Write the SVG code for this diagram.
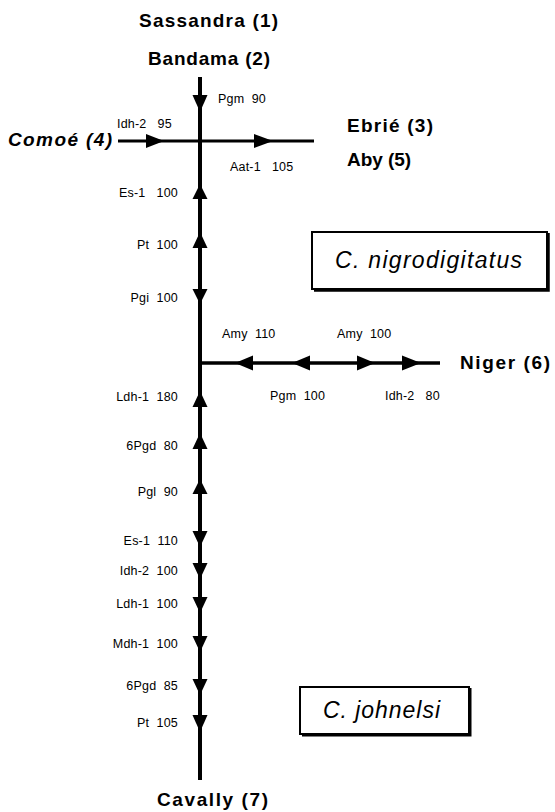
<svg xmlns="http://www.w3.org/2000/svg" width="555" height="812" viewBox="0 0 555 812">
<style>
.big{font-family:"Liberation Sans",Arial,sans-serif;font-weight:bold;font-size:19px;fill:#000}
.lab{font-family:"Liberation Sans",Arial,sans-serif;font-size:12.5px;letter-spacing:0.2px;fill:#000;white-space:pre}
.sp{font-family:"Liberation Sans",Arial,sans-serif;font-style:italic;font-size:23px;fill:#000}
.ln{stroke:#000;fill:none}
.ah{fill:#000}
</style>
<rect width="555" height="812" fill="#fff"/>
<g id="connectors">
<line class="ln" x1="200" y1="77" x2="200" y2="780" stroke-width="4"/>
<line class="ln" x1="118" y1="141" x2="314" y2="141" stroke-width="3"/>
<line class="ln" x1="200" y1="363" x2="440" y2="363" stroke-width="3.5"/>
<polygon class="ah" points="192.5,95 207.5,95 200,112"/>
<polygon class="ah" points="200,184 207.5,199 192.5,199"/>
<polygon class="ah" points="200,232 207.5,248 192.5,248"/>
<polygon class="ah" points="192.5,289 207.5,289 200,304"/>
<polygon class="ah" points="200,391 207.5,407 192.5,407"/>
<polygon class="ah" points="200,433 207.5,449 192.5,449"/>
<polygon class="ah" points="200,479 207.5,494 192.5,494"/>
<polygon class="ah" points="192.5,531 207.5,531 200,547"/>
<polygon class="ah" points="192.5,563 207.5,563 200,579"/>
<polygon class="ah" points="192.5,597 207.5,597 200,613"/>
<polygon class="ah" points="192.5,636 207.5,636 200,652"/>
<polygon class="ah" points="192.5,679 207.5,679 200,695"/>
<polygon class="ah" points="192.5,715 207.5,715 200,732"/>
<polygon class="ah" points="146,134 146,148 164,141"/>
<polygon class="ah" points="254,134 254,148 273,141"/>
<polygon class="ah" points="235,363 253,355.5 253,370.5"/>
<polygon class="ah" points="292,363 310,355.5 310,370.5"/>
<polygon class="ah" points="357,355.5 357,370.5 375,363"/>
<polygon class="ah" points="402,355.5 402,370.5 421,363"/>
</g>
<g id="sassandra"><text class="big" x="139" y="27" textLength="139" lengthAdjust="spacing">Sassandra (1)</text></g>
<g id="bandama"><text class="big" x="148" y="65" textLength="122" lengthAdjust="spacing">Bandama (2)</text></g>
<g id="ebrie"><text class="big" x="347" y="132" textLength="86" lengthAdjust="spacing">Ebrié (3)</text></g>
<g id="aby"><text class="big" x="347" y="166" textLength="64" lengthAdjust="spacing">Aby (5)</text></g>
<g id="comoe"><text class="big" x="8" y="146" textLength="104" lengthAdjust="spacing" font-style="italic">Comoé (4)</text></g>
<g id="niger"><text class="big" x="460" y="369" textLength="90" lengthAdjust="spacing">Niger (6)</text></g>
<g id="cavally"><text class="big" x="157" y="806" textLength="111" lengthAdjust="spacing">Cavally (7)</text></g>
<g id="nigrodigitatus">
<rect x="312" y="232" width="235" height="57" fill="#fff" stroke="#000" stroke-width="2"/>
<polyline class="ln" points="314,290 548,290 548,233" stroke-width="3.5"/>
<text class="sp" x="335" y="268" textLength="187" lengthAdjust="spacing">C. nigrodigitatus</text>
</g>
<g id="johnelsi">
<rect x="300" y="687" width="169" height="47" fill="#fff" stroke="#000" stroke-width="2"/>
<polyline class="ln" points="302,735 470,735 470,688" stroke-width="3"/>
<text class="sp" x="323" y="718" textLength="117" lengthAdjust="spacing">C. johnelsi</text>
</g>
<g id="labels">
<text class="lab" x="218" y="103">Pgm  90</text>
<text class="lab" x="117" y="128">Idh-2   95</text>
<text class="lab" x="230" y="171">Aat-1   105</text>
<text class="lab" x="178" y="197" text-anchor="end">Es-1   100</text>
<text class="lab" x="178" y="249" text-anchor="end">Pt  100</text>
<text class="lab" x="178" y="302" text-anchor="end">Pgi  100</text>
<text class="lab" x="222" y="338">Amy  110</text>
<text class="lab" x="337" y="338">Amy  100</text>
<text class="lab" x="270" y="400">Pgm  100</text>
<text class="lab" x="385" y="400">Idh-2   80</text>
<text class="lab" x="178" y="401" text-anchor="end">Ldh-1  180</text>
<text class="lab" x="178" y="450" text-anchor="end">6Pgd  80</text>
<text class="lab" x="178" y="496" text-anchor="end">Pgl  90</text>
<text class="lab" x="178" y="545" text-anchor="end">Es-1  110</text>
<text class="lab" x="178" y="575" text-anchor="end">Idh-2  100</text>
<text class="lab" x="178" y="608" text-anchor="end">Ldh-1  100</text>
<text class="lab" x="178" y="648" text-anchor="end">Mdh-1  100</text>
<text class="lab" x="178" y="690" text-anchor="end">6Pgd  85</text>
<text class="lab" x="178" y="727" text-anchor="end">Pt  105</text>
</g>
</svg>
